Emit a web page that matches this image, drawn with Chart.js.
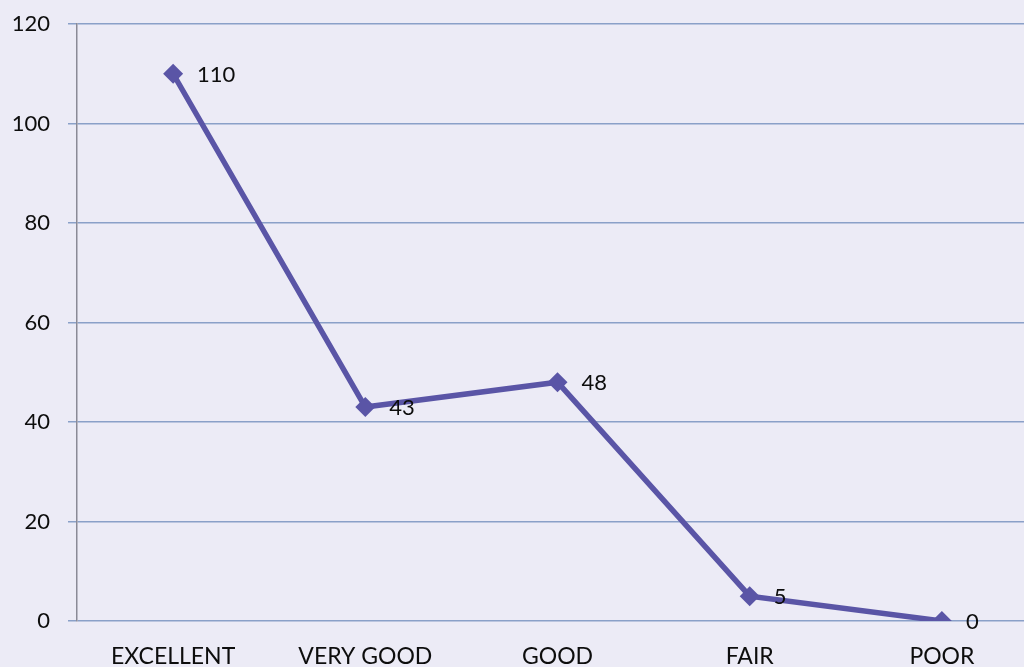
<!DOCTYPE html>
<html>
<head>
<meta charset="utf-8">
<script src="https://cdn.jsdelivr.net/npm/chart.js@4"></script>
<style>
  html, body { margin: 0; padding: 0; overflow: hidden; background: #ecebf6; }
  #wrap { width: 1024px; height: 667px; overflow: hidden; }
</style>
</head>
<body>
<div id="wrap"><canvas id="ratingChart" width="1048" height="667"></canvas></div>
<script>
const categories = ["EXCELLENT", "VERY GOOD", "GOOD", "FAIR", "POOR"];
const counts = [110, 43, 48, 5, 0];
const yTicks = [0, 20, 40, 60, 80, 100, 120];

const FONT = "Lato, 'Open Sans', sans-serif";

// paper-ish background
const bgPlugin = {
  id: "bg",
  beforeDraw(chart) {
    const c = chart.ctx;
    c.save();
    c.fillStyle = "#ecebf6";
    c.fillRect(0, 0, chart.width, chart.height);
    c.restore();
  },
};

// value labels to the right of each point
const valueLabels = {
  id: "valueLabels",
  afterDatasetsDraw(chart) {
    const c = chart.ctx;
    const meta = chart.getDatasetMeta(0);
    c.save();
    c.font = "22px " + FONT;
    c.fillStyle = "#0d0d0d";
    c.textAlign = "left";
    c.textBaseline = "middle";
    meta.data.forEach((pt, i) => {
      c.fillText(String(counts[i]), pt.x + 24, pt.y + 1);
    });
    c.restore();
  },
};

new Chart(document.getElementById("ratingChart"), {
  type: "line",
  data: {
    labels: categories,
    datasets: [
      {
        data: counts,
        borderColor: "#5a55a6",
        backgroundColor: "#5a55a6",
        borderWidth: 5.5,
        tension: 0,
        pointStyle: "rectRot",
        pointRadius: 10,
        pointHoverRadius: 10,
        pointBorderWidth: 0,
      },
    ],
  },
  options: {
    responsive: false,
    animation: false,
    events: [],
    layout: { padding: { top: 24, right: 0, left: 0, bottom: 0 } },
    plugins: {
      legend: { display: false },
      tooltip: { enabled: false },
    },
    scales: {
      x: {
        offset: true,
        grid: { display: false, drawTicks: false },
        border: { display: false },
        ticks: {
          padding: 22,
          color: "#0d0d0d",
          font: { family: FONT, size: 23 },
          maxRotation: 0,
        },
        afterFit(scale) {
          scale.height = 46;
        },
      },
      y: {
        min: 0,
        max: 120,
        afterBuildTicks(scale) {
          scale.ticks = yTicks.map((v) => ({ value: v }));
        },
        grid: {
          color: "#8aa0c8",
          lineWidth: 1.5,
          tickLength: 9,
        },
        border: { display: true, color: "#8a8a96", width: 1.5 },
        ticks: {
          padding: 18,
          color: "#0d0d0d",
          font: { family: FONT, size: 22 },
        },
        afterFit(scale) {
          scale.width = 77;
          scale.paddingTop = 0;
          scale.paddingBottom = 0;
        },
      },
    },
  },
  plugins: [bgPlugin, valueLabels],
});
</script>
</body>
</html>
